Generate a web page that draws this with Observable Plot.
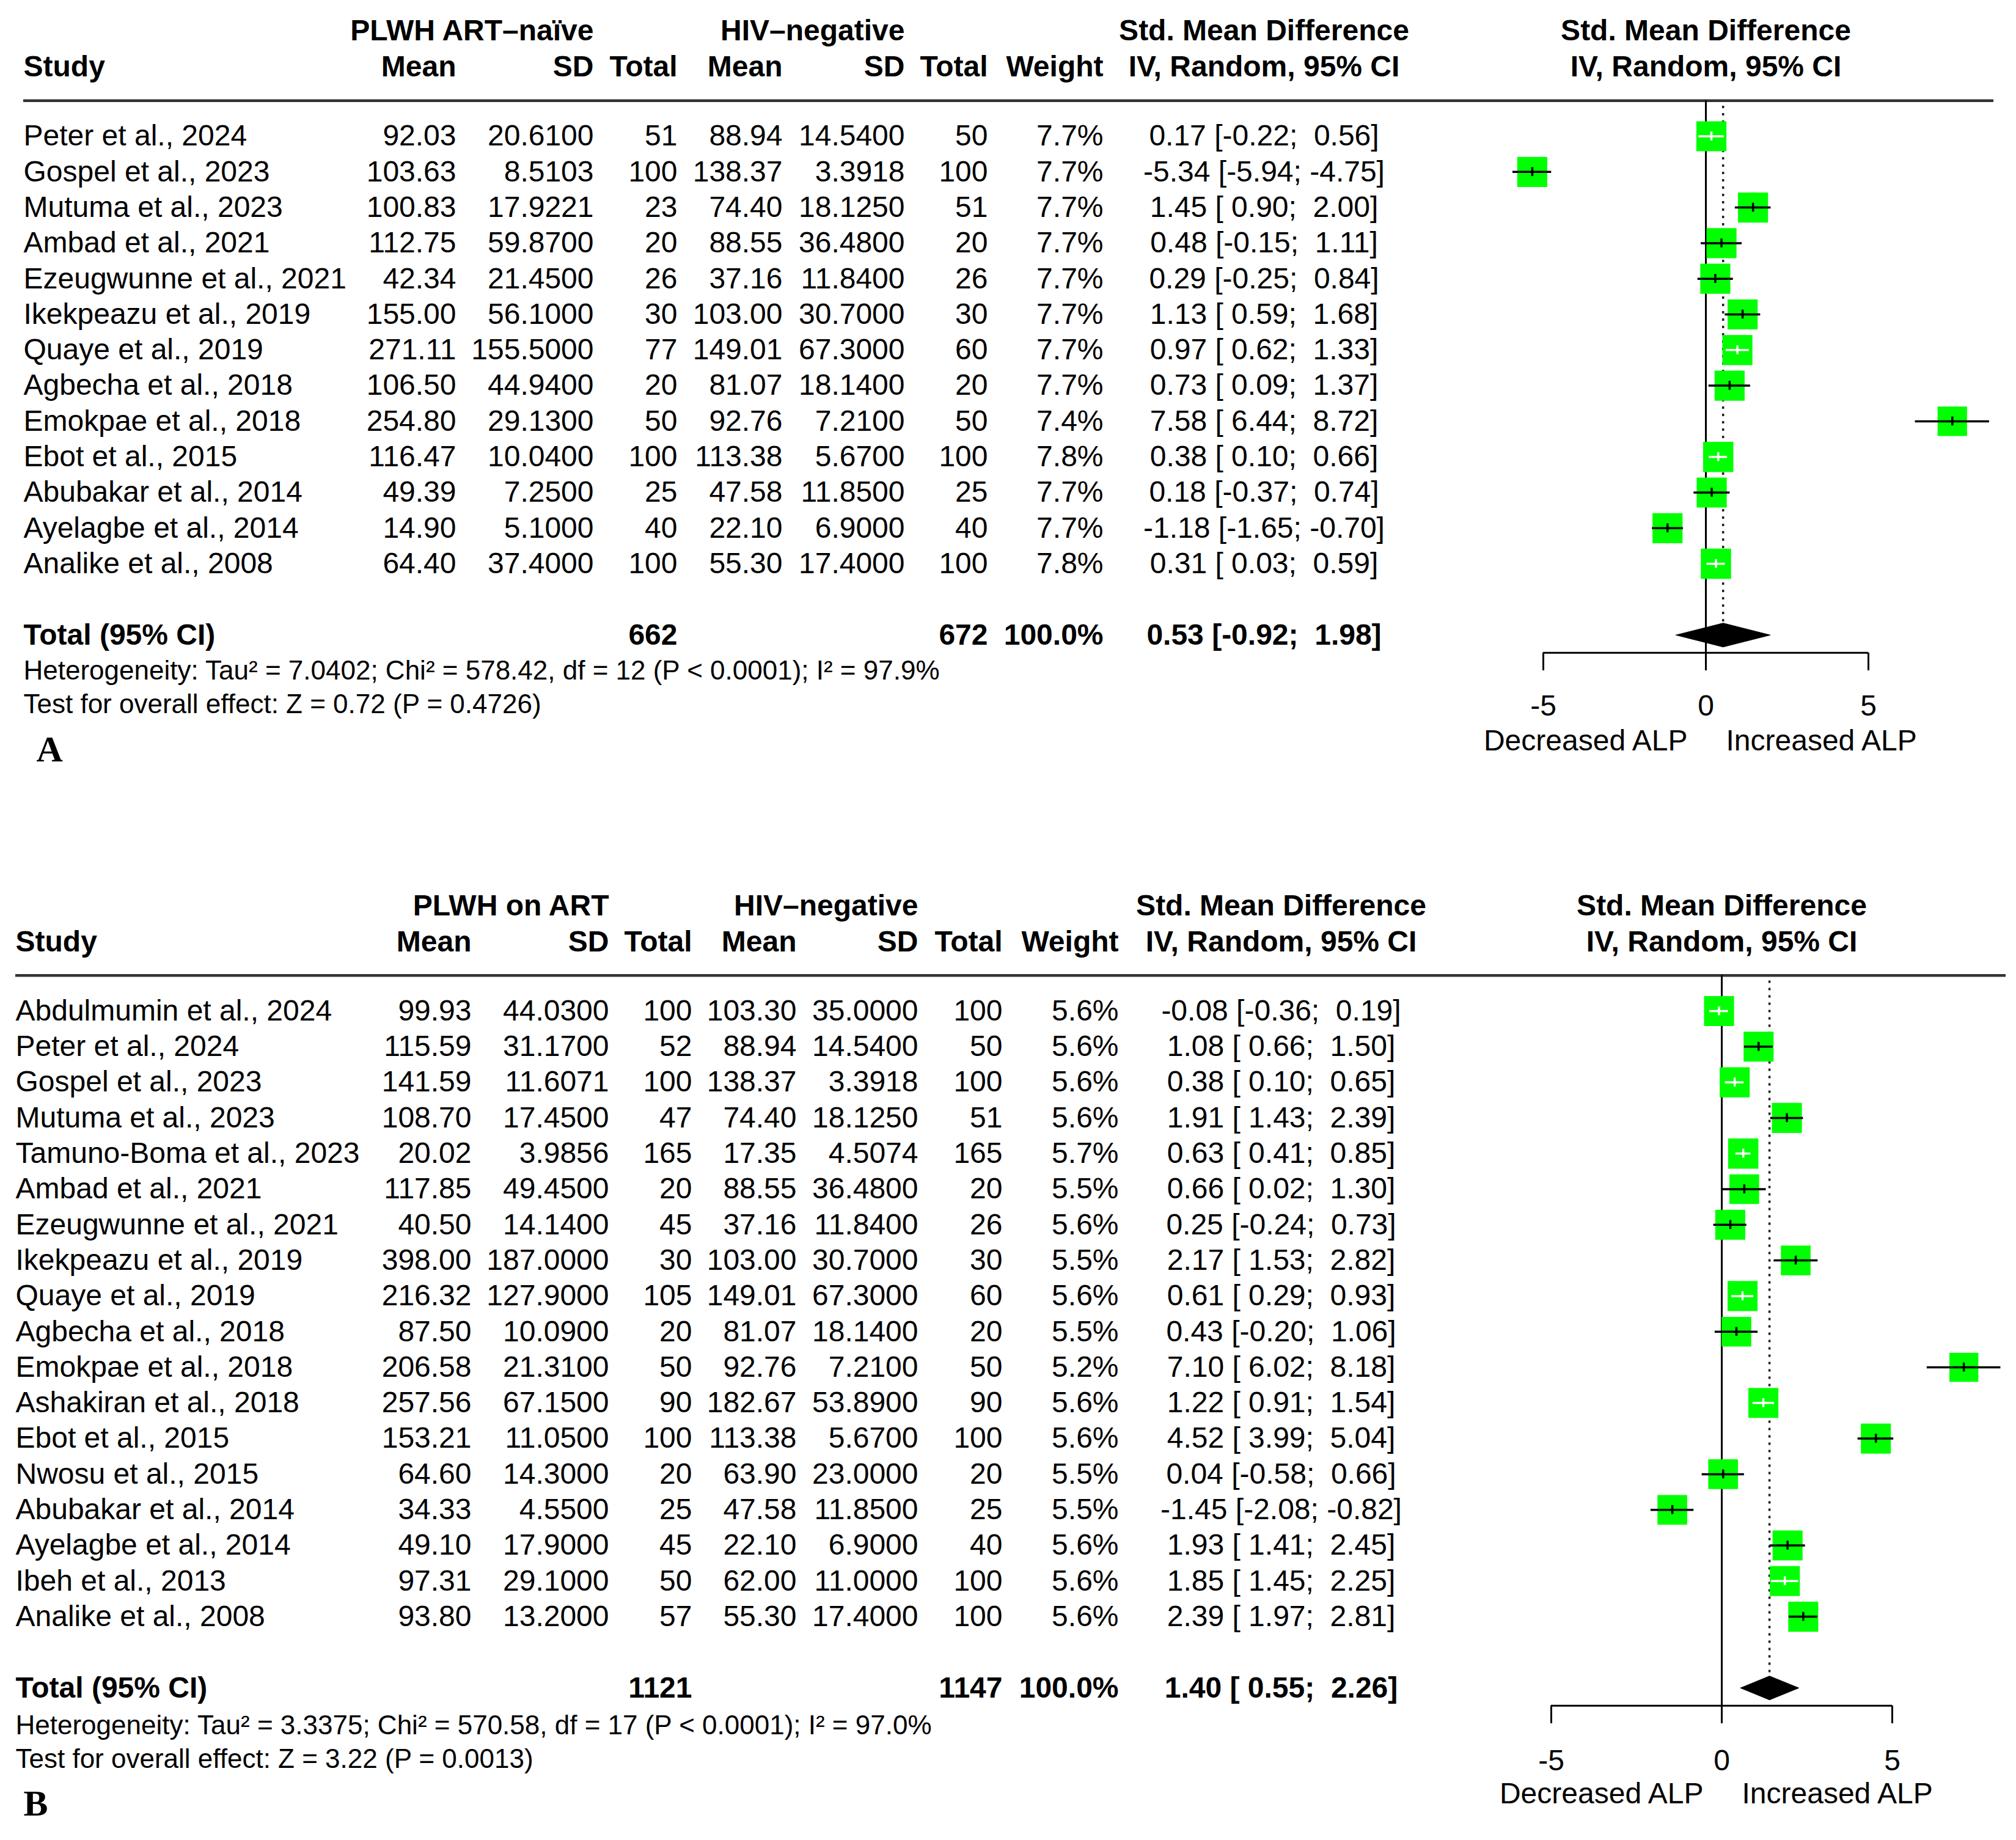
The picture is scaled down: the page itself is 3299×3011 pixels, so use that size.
<!DOCTYPE html>
<html>
<head>
<meta charset="utf-8">
<script src="https://cdn.jsdelivr.net/npm/d3@7"></script>
<script src="https://cdn.jsdelivr.net/npm/@observablehq/plot@0.6"></script>
<style>
  html, body { margin: 0; padding: 0; background: #fff; overflow: hidden; }
  #chart svg { display: block; }
  #chart svg text { white-space: pre; }
</style>
</head>
<body>
<div id="chart"></div>
<script>
// ---------------- Panel A: PLWH ART-naïve vs HIV-negative ----------------
const studiesA = ["Peter et al., 2024", "Gospel et al., 2023", "Mutuma et al., 2023", "Ambad et al., 2021",
  "Ezeugwunne et al., 2021", "Ikekpeazu et al., 2019", "Quaye et al., 2019", "Agbecha et al., 2018",
  "Emokpae et al., 2018", "Ebot et al., 2015", "Abubakar et al., 2014", "Ayelagbe et al., 2014", "Analike et al., 2008"];
const meanExpA = [92.03, 103.63, 100.83, 112.75, 42.34, 155.00, 271.11, 106.50, 254.80, 116.47, 49.39, 14.90, 64.40];
const sdExpA = [20.6100, 8.5103, 17.9221, 59.8700, 21.4500, 56.1000, 155.5000, 44.9400, 29.1300, 10.0400, 7.2500, 5.1000, 37.4000];
const nExpA = [51, 100, 23, 20, 26, 30, 77, 20, 50, 100, 25, 40, 100];
const meanCtlA = [88.94, 138.37, 74.40, 88.55, 37.16, 103.00, 149.01, 81.07, 92.76, 113.38, 47.58, 22.10, 55.30];
const sdCtlA = [14.5400, 3.3918, 18.1250, 36.4800, 11.8400, 30.7000, 67.3000, 18.1400, 7.2100, 5.6700, 11.8500, 6.9000, 17.4000];
const nCtlA = [50, 100, 51, 20, 26, 30, 60, 20, 50, 100, 25, 40, 100];
const weightA = [7.7, 7.7, 7.7, 7.7, 7.7, 7.7, 7.7, 7.7, 7.4, 7.8, 7.7, 7.7, 7.8];
const smdA = [0.17, -5.34, 1.45, 0.48, 0.29, 1.13, 0.97, 0.73, 7.58, 0.38, 0.18, -1.18, 0.31];
const loA = [-0.22, -5.94, 0.90, -0.15, -0.25, 0.59, 0.62, 0.09, 6.44, 0.10, -0.37, -1.65, 0.03];
const hiA = [0.56, -4.75, 2.00, 1.11, 0.84, 1.68, 1.33, 1.37, 8.72, 0.66, 0.74, -0.70, 0.59];
const totalA = { nExp: 662, nCtl: 672, smd: 0.53, lo: -0.92, hi: 1.98 };
const hetA = { tau2: "7.0402", chi2: "578.42", df: 12, p: "< 0.0001", i2: "97.9" };
const testA = { z: "0.72", p: "0.4726" };

// ---------------- Panel B: PLWH on ART vs HIV-negative ----------------
const studiesB = ["Abdulmumin et al., 2024", "Peter et al., 2024", "Gospel et al., 2023", "Mutuma et al., 2023",
  "Tamuno-Boma et al., 2023", "Ambad et al., 2021", "Ezeugwunne et al., 2021", "Ikekpeazu et al., 2019",
  "Quaye et al., 2019", "Agbecha et al., 2018", "Emokpae et al., 2018", "Ashakiran et al., 2018",
  "Ebot et al., 2015", "Nwosu et al., 2015", "Abubakar et al., 2014", "Ayelagbe et al., 2014",
  "Ibeh et al., 2013", "Analike et al., 2008"];
const meanExpB = [99.93, 115.59, 141.59, 108.70, 20.02, 117.85, 40.50, 398.00, 216.32, 87.50, 206.58, 257.56, 153.21, 64.60, 34.33, 49.10, 97.31, 93.80];
const sdExpB = [44.0300, 31.1700, 11.6071, 17.4500, 3.9856, 49.4500, 14.1400, 187.0000, 127.9000, 10.0900, 21.3100, 67.1500, 11.0500, 14.3000, 4.5500, 17.9000, 29.1000, 13.2000];
const nExpB = [100, 52, 100, 47, 165, 20, 45, 30, 105, 20, 50, 90, 100, 20, 25, 45, 50, 57];
const meanCtlB = [103.30, 88.94, 138.37, 74.40, 17.35, 88.55, 37.16, 103.00, 149.01, 81.07, 92.76, 182.67, 113.38, 63.90, 47.58, 22.10, 62.00, 55.30];
const sdCtlB = [35.0000, 14.5400, 3.3918, 18.1250, 4.5074, 36.4800, 11.8400, 30.7000, 67.3000, 18.1400, 7.2100, 53.8900, 5.6700, 23.0000, 11.8500, 6.9000, 11.0000, 17.4000];
const nCtlB = [100, 50, 100, 51, 165, 20, 26, 30, 60, 20, 50, 90, 100, 20, 25, 40, 100, 100];
const weightB = [5.6, 5.6, 5.6, 5.6, 5.7, 5.5, 5.6, 5.5, 5.6, 5.5, 5.2, 5.6, 5.6, 5.5, 5.5, 5.6, 5.6, 5.6];
const smdB = [-0.08, 1.08, 0.38, 1.91, 0.63, 0.66, 0.25, 2.17, 0.61, 0.43, 7.10, 1.22, 4.52, 0.04, -1.45, 1.93, 1.85, 2.39];
const loB = [-0.36, 0.66, 0.10, 1.43, 0.41, 0.02, -0.24, 1.53, 0.29, -0.20, 6.02, 0.91, 3.99, -0.58, -2.08, 1.41, 1.45, 1.97];
const hiB = [0.19, 1.50, 0.65, 2.39, 0.85, 1.30, 0.73, 2.82, 0.93, 1.06, 8.18, 1.54, 5.04, 0.66, -0.82, 2.45, 2.25, 2.81];
const totalB = { nExp: 1121, nCtl: 1147, smd: 1.40, lo: 0.55, hi: 2.26 };
const hetB = { tau2: "3.3375", chi2: "570.58", df: 17, p: "< 0.0001", i2: "97.0" };
const testB = { z: "3.22", p: "0.0013" };

// ---------------- shared labels ----------------
const xTicks = [-5, 0, 5];
const labelLeft = "Decreased ALP";
const labelRight = "Increased ALP";
const colHeads = ["Mean", "SD", "Total", "Mean", "SD", "Total", "Weight"];

const FONT = "'Liberation Sans', Arial, Helvetica, sans-serif";
const SERIF = "'Liberation Serif', 'Times New Roman', serif";
const GREEN = "#00ff00";
const W = 3299;

function fmtCI(e, l, h) {
  return `${e.toFixed(2)} [${l.toFixed(2).padStart(5)}; ${h.toFixed(2).padStart(5)}]`;
}

function drawPanel(p, L) {
  const n = p.studies.length;
  const rows = p.studies.map((s, i) => ({
    row: i, study: s,
    meanE: p.meanE[i].toFixed(2), sdE: p.sdE[i].toFixed(4), nE: String(p.nE[i]),
    meanC: p.meanC[i].toFixed(2), sdC: p.sdC[i].toFixed(4), nC: String(p.nC[i]),
    w: p.weight[i], wTxt: p.weight[i].toFixed(1) + "%",
    smd: p.smd[i], lo: p.lo[i], hi: p.hi[i],
    ci: fmtCI(p.smd[i], p.lo[i], p.hi[i])
  }));
  const totalRow = n + 1;
  const wmax = d3.max(p.weight);
  const pxPerUnit = (L.xRange[1] - L.xRange[0]) / (xTicks[xTicks.length - 1] - xTicks[0]);
  const side = w => L.boxMax * Math.sqrt(w / wmax);
  rows.forEach(d => { d.inside = (d.hi - d.lo) * pxPerUnit < 0.93 * side(d.w); });
  const inRows = rows.filter(d => d.inside), outRows = rows.filter(d => !d.inside);

  const t = p.total;
  const dh = 0.335;
  const diamond = [
    { x: t.lo, y: totalRow }, { x: t.smd, y: totalRow - dh },
    { x: t.hi, y: totalRow }, { x: t.smd, y: totalRow + dh }, { x: t.lo, y: totalRow }
  ];

  const base = { frameAnchor: "left", fontFamily: FONT, fontSize: 48, fill: "black" };
  const col = (data, text, dx, anchor, extra = {}) =>
    Plot.text(data, { ...base, y: "row", text, dx, textAnchor: anchor, ...extra });
  const lbl = (str, yv, dx, anchor, extra = {}) =>
    Plot.text([str], { ...base, y: yv, dx, textAnchor: anchor, ...extra });

  const H1 = -2.95, H2 = -1.94;
  const C = L.cols;
  const hetTxt = `Heterogeneity: Tau² = ${p.het.tau2}; Chi² = ${p.het.chi2}, df = ${p.het.df} (P ${p.het.p}); I² = ${p.het.i2}%`;
  const testTxt = `Test for overall effect: Z = ${p.test.z} (P = ${p.test.p})`;

  return Plot.plot({
    width: W, height: L.H,
    marginTop: 0, marginBottom: 0, marginLeft: 0, marginRight: 0,
    style: { background: "white" },
    x: { type: "linear", domain: [xTicks[0], xTicks[xTicks.length - 1]], range: L.xRange, axis: null },
    y: { type: "linear", domain: [-L.y0 / L.rowH, (L.H - L.y0) / L.rowH], range: [0, L.H], axis: null },
    r: { type: "sqrt", domain: [0, wmax], range: [0, L.boxMax / Math.sqrt(Math.PI)] },
    marks: [
      // header rule
      Plot.ruleY([-1], { stroke: "#333", strokeWidth: 4.5, insetLeft: L.ruleL, insetRight: W - L.ruleR }),
      // null line
      Plot.ruleX([0], { y1: -1, y2: totalRow + 1.0, stroke: "black", strokeWidth: 3 }),
      // pooled estimate dotted line
      Plot.ruleX([t.smd], { y1: -0.85, y2: totalRow - dh, stroke: "#222", strokeWidth: 3.5, strokeDasharray: "4,8" }),
      // study boxes
      Plot.dot(rows, { x: "smd", y: "row", r: "w", symbol: "square", fill: GREEN, stroke: null }),
      // confidence intervals
      Plot.ruleY(outRows, { y: "row", x1: "lo", x2: "hi", stroke: "black", strokeWidth: 3.5 }),
      Plot.ruleY(inRows, { y: "row", x1: "lo", x2: "hi", stroke: "white", strokeWidth: 3.5 }),
      Plot.ruleX(outRows, { x: "smd", y1: d => d.row - 0.125, y2: d => d.row + 0.125, stroke: "black", strokeWidth: 3.5 }),
      Plot.ruleX(inRows, { x: "smd", y1: d => d.row - 0.125, y2: d => d.row + 0.125, stroke: "white", strokeWidth: 3.5 }),
      // pooled diamond
      Plot.line(diamond, { x: "x", y: "y", fill: "black", stroke: "black", strokeWidth: 1 }),
      // forest axis
      Plot.ruleY([totalRow + 0.5], { x1: xTicks[0], x2: xTicks[xTicks.length - 1], stroke: "black", strokeWidth: 3 }),
      Plot.ruleX(xTicks, { x: d => d, y1: totalRow + 0.5, y2: totalRow + 1.0, stroke: "black", strokeWidth: 3 }),
      Plot.text(xTicks, { x: d => d, y: totalRow + 2.0 + L.tickShift, text: d => String(d), fontFamily: FONT, fontSize: 48, fill: "black" }),
      Plot.text([labelLeft], { x: 0, y: totalRow + 3.0 - 0.02, dx: -30, textAnchor: "end", fontFamily: FONT, fontSize: 48, fill: "black" }),
      Plot.text([labelRight], { x: 0, y: totalRow + 3.0 - 0.02, dx: 33, textAnchor: "start", fontFamily: FONT, fontSize: 48, fill: "black" }),
      // forest header
      Plot.text(["Std. Mean Difference"], { x: 0, y: H1, fontFamily: FONT, fontSize: 48, fontWeight: "bold", fill: "black" }),
      Plot.text(["IV, Random, 95% CI"], { x: 0, y: H2, fontFamily: FONT, fontSize: 48, fontWeight: "bold", fill: "black" }),
      // table headers
      lbl(p.groupExp, H1, C.sdE, "end", { fontWeight: "bold" }),
      lbl("HIV–negative", H1, C.sdC, "end", { fontWeight: "bold" }),
      lbl("Std. Mean Difference", H1, C.ci, "middle", { fontWeight: "bold" }),
      lbl("Study", H2, C.study, "start", { fontWeight: "bold" }),
      lbl(colHeads[0], H2, C.meanE, "end", { fontWeight: "bold" }),
      lbl(colHeads[1], H2, C.sdE, "end", { fontWeight: "bold" }),
      lbl(colHeads[2], H2, C.nE, "end", { fontWeight: "bold" }),
      lbl(colHeads[3], H2, C.meanC, "end", { fontWeight: "bold" }),
      lbl(colHeads[4], H2, C.sdC, "end", { fontWeight: "bold" }),
      lbl(colHeads[5], H2, C.nC, "end", { fontWeight: "bold" }),
      lbl(colHeads[6], H2, C.weight, "end", { fontWeight: "bold" }),
      lbl("IV, Random, 95% CI", H2, C.ci, "middle", { fontWeight: "bold" }),
      // table body
      col(rows, "study", C.study, "start"),
      col(rows, "meanE", C.meanE, "end"),
      col(rows, "sdE", C.sdE, "end"),
      col(rows, "nE", C.nE, "end"),
      col(rows, "meanC", C.meanC, "end"),
      col(rows, "sdC", C.sdC, "end"),
      col(rows, "nC", C.nC, "end"),
      col(rows, "wTxt", C.weight, "end"),
      col(rows, "ci", C.ci, "middle"),
      // total row
      lbl("Total (95% CI)", totalRow, C.study, "start", { fontWeight: "bold" }),
      lbl(String(t.nExp), totalRow, C.nE, "end", { fontWeight: "bold" }),
      lbl(String(t.nCtl), totalRow, C.nC, "end", { fontWeight: "bold" }),
      lbl("100.0%", totalRow, C.weight, "end", { fontWeight: "bold" }),
      lbl(fmtCI(t.smd, t.lo, t.hi), totalRow, C.ci, "middle", { fontWeight: "bold" }),
      // heterogeneity & test
      lbl(hetTxt, totalRow + L.hetShift, C.study, "start", { fontSize: 44 }),
      lbl(testTxt, totalRow + L.testShift, C.study, "start", { fontSize: 44 }),
      // panel letter
      lbl(p.letter, totalRow + L.letterShift, L.letterX, "start", { fontFamily: SERIF, fontSize: 60, fontWeight: "bold" })
    ]
  });
}

const panelA = {
  studies: studiesA, meanE: meanExpA, sdE: sdExpA, nE: nExpA, meanC: meanCtlA, sdC: sdCtlA, nC: nCtlA,
  weight: weightA, smd: smdA, lo: loA, hi: hiA, total: totalA, het: hetA, test: testA,
  groupExp: "PLWH ART–naïve", letter: "A"
};
const panelB = {
  studies: studiesB, meanE: meanExpB, sdE: sdExpB, nE: nExpB, meanC: meanCtlB, sdC: sdCtlB, nC: nCtlB,
  weight: weightB, smd: smdB, lo: loB, hi: hiB, total: totalB, het: hetB, test: testB,
  groupExp: "PLWH on ART", letter: "B"
};

const layoutA = {
  H: 1310, y0: 222.5, rowH: 58.3, xRange: [2525, 3057], boxMax: 49.5,
  ruleL: 38, ruleR: 3262, letterX: 59,
  hetShift: 1.0, testShift: 1.95, letterShift: 3.22, tickShift: 0,
  cols: { study: 38, meanE: 746, sdE: 971, nE: 1108, meanC: 1280, sdC: 1480, nC: 1616, weight: 1805, ci: 2068 }
};
const layoutB = {
  H: 1701, y0: 344, rowH: 58.3, xRange: [2538, 3096], boxMax: 49.5,
  ruleL: 25, ruleR: 3282, letterX: 38,
  hetShift: 1.06, testShift: 2.0, letterShift: 3.25, tickShift: 0.04,
  cols: { study: 25, meanE: 771, sdE: 996, nE: 1132, meanC: 1303, sdC: 1502, nC: 1640, weight: 1830, ci: 2096 }
};

const chart = document.getElementById("chart");
chart.appendChild(drawPanel(panelA, layoutA));
chart.appendChild(drawPanel(panelB, layoutB));
</script>
</body>
</html>
